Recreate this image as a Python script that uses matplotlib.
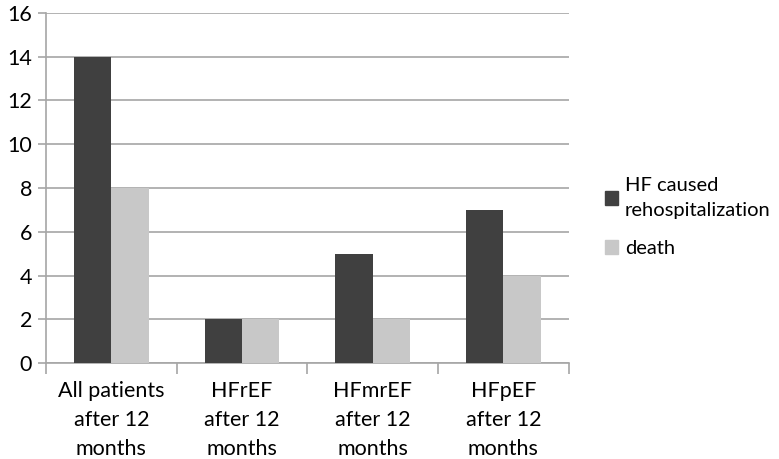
import numpy as np
import matplotlib.pyplot as plt
from matplotlib.patches import Patch

plt.rcParams['font.family'] = ['Lato', 'DejaVu Sans']

categories = ["All patients\nafter 12\nmonths", "HFrEF\nafter 12\nmonths",
              "HFmrEF\nafter 12\nmonths", "HFpEF\nafter 12\nmonths"]
rehosp = [14, 2, 5, 7]
death = [8, 2, 2, 4]
series_names = ["HF caused\nrehospitalization", "death"]

dark = '#404040'
light = '#c8c8c8'
grid = '#a6a6a6'

fig = plt.figure(figsize=(7.79, 4.59), dpi=100)
ax = fig.add_axes([0.059, 0.209, 0.671, 0.763])

x = np.arange(len(categories))
w = 0.285
ax.bar(x - w / 2, rehosp, w, color=dark, zorder=3)
ax.bar(x + w / 2, death, w, color=light, zorder=3)

ax.set_xlim(-0.5, len(categories) - 0.5)
ax.set_ylim(0, 16)
ax.set_yticks(range(0, 17, 2))
ax.yaxis.grid(True, color=grid, linewidth=1.2, zorder=0)
ax.set_axisbelow(True)

for s in ['top', 'right']:
    ax.spines[s].set_visible(False)
for s in ['left', 'bottom']:
    ax.spines[s].set_color(grid)
    ax.spines[s].set_linewidth(1.2)

ax.set_xticks(x)
ax.set_xticklabels(categories, fontsize=15.5, linespacing=1.55)
ax.tick_params(axis='x', length=0, pad=13)
ax.set_xticks(np.arange(-0.5, len(categories), 1), minor=True)
ax.tick_params(axis='x', which='minor', length=8, color=grid, width=1.2)
ax.tick_params(axis='y', length=6, color=grid, width=1.2, labelsize=15.5, pad=4)

handles = [Patch(color=dark), Patch(color=light)]
leg = fig.legend(handles, series_names, loc='center left', bbox_to_anchor=(0.776, 0.527),
                 frameon=False, fontsize=14.5, handlelength=0.65, handleheight=0.65,
                 handletextpad=0.35, labelspacing=1.05, borderpad=0, borderaxespad=0)
for t in leg.get_texts():
    t.set_linespacing(1.55)

fig.savefig('out.png', dpi=100)
